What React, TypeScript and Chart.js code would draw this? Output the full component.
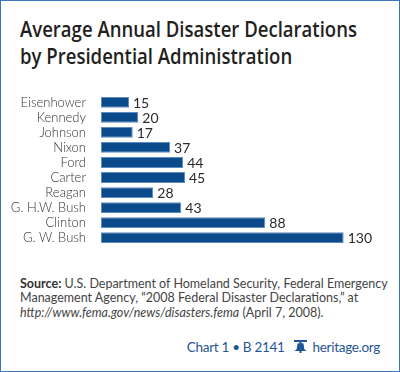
import React, { useEffect, useLayoutEffect, useRef, useState } from "react";
import { Chart, registerables } from "chart.js";

Chart.register(...registerables);

const titleLines = ["Average Annual Disaster Declarations", "by Presidential Administration"];
const categories = [
  "Eisenhower",
  "Kennedy",
  "Johnson",
  "Nixon",
  "Ford",
  "Carter",
  "Reagan",
  "G. H.W. Bush",
  "Clinton",
  "G. W. Bush",
];
const values = [15, 20, 17, 37, 44, 45, 28, 43, 88, 130];
const xMin = 0;
const xMax = 150;

const barColor = "#0b4b8c";
const barEdge = "#5f8cc0";
const textColor = "#2a2a2a";
const titleTargetWidth = 337;

const valueLabels = {
  id: "valueLabels",
  afterDatasetsDraw(chart: any) {
    const ctx = chart.ctx;
    const meta = chart.getDatasetMeta(0);
    ctx.save();
    ctx.font = "14px Lato";
    ctx.fillStyle = textColor;
    ctx.textBaseline = "middle";
    ctx.textAlign = "left";
    meta.data.forEach((bar: any, i: number) => {
      ctx.fillText(String(values[i]), bar.x + 4, bar.y + 1);
    });
    ctx.restore();
  },
};

function Bell() {
  return (
    <svg width="15" height="13" viewBox="0 0 15 13" style={{ display: "inline-block", verticalAlign: "-1px", margin: "0 5px 0 8px" }}>
      <rect x="1" y="0" width="13" height="2" fill="#1f5597" />
      <rect x="6.5" y="2" width="2" height="1.5" fill="#1f5597" />
      <path d="M4.5 3.5 Q7.5 2.5 10.5 3.5 L11.3 9 Q12.2 10.3 14 11 L1 11 Q2.8 10.3 3.7 9 Z" fill="#1f5597" />
      <rect x="6.5" y="11" width="2" height="2" fill="#1f5597" />
    </svg>
  );
}

export default function App() {
  const ref = useRef<HTMLCanvasElement | null>(null);
  const titleRef = useRef<HTMLDivElement | null>(null);
  const [titleScale, setTitleScale] = useState(1);

  useLayoutEffect(() => {
    const el = titleRef.current;
    if (!el) return;
    const w = el.getBoundingClientRect().width;
    if (w > 0) setTitleScale(titleTargetWidth / w);
  }, []);

  useEffect(() => {
    if (!ref.current) return;
    const chart = new Chart(ref.current, {
      type: "bar",
      data: {
        labels: categories,
        datasets: [
          {
            data: values,
            backgroundColor: barColor,
            borderColor: barEdge,
            borderWidth: 1,
            borderSkipped: false,
            barPercentage: 0.72,
            categoryPercentage: 1,
          },
        ],
      },
      options: {
        indexAxis: "y",
        animation: false,
        responsive: false,
        devicePixelRatio: 1,
        layout: { padding: { left: 0, right: 19, top: 0, bottom: 0 } },
        plugins: {
          legend: { display: false },
          tooltip: { enabled: false },
          title: { display: false },
        },
        scales: {
          x: {
            display: false,
            min: xMin,
            max: xMax,
          },
          y: {
            grid: { display: false },
            border: { display: false },
            ticks: {
              autoSkip: false,
              color: "#333333",
              font: { family: "Lato", size: 13, weight: "300" },
              padding: 7,
            },
            afterFit: (scale: any) => {
              scale.width = 101;
            },
          },
        },
      },
      plugins: [valueLabels],
    } as any);
    return () => chart.destroy();
  }, []);

  return (
    <div
      style={{
        position: "absolute",
        left: 0,
        top: 0,
        width: 400,
        height: 372,
        background: "#ffffff",
        overflow: "hidden",
      }}
    >
      <div
        style={{
          position: "absolute",
          left: 20,
          top: 15,
          fontFamily: "'Open Sans', sans-serif",
          fontWeight: 600,
          fontSize: 22,
          lineHeight: "27px",
          color: "#231f20",
          whiteSpace: "nowrap",
          transform: `scaleX(${titleScale})`,
          transformOrigin: "left top",
        }}
      >
        <div ref={titleRef} style={{ display: "inline-block" }}>{titleLines[0]}</div>
        <div>{titleLines[1]}</div>
      </div>
      <canvas
        ref={ref}
        width={400}
        height={180}
        style={{ position: "absolute", left: 0, top: 80, width: 400, height: 180, display: "block" }}
      />
      <div
        style={{
          position: "absolute",
          left: 20,
          top: 277,
          fontFamily: "Lato, sans-serif",
          fontSize: 12.5,
          lineHeight: "14.3px",
          color: "#444444",
          whiteSpace: "nowrap",
        }}
      >
        <div>
          <span style={{ fontWeight: 700, color: "#333" }}>Source:</span> U.S. Department of Homeland Security, Federal Emergency
        </div>
        <div>Management Agency, “2008 Federal Disaster Declarations,” at</div>
        <div>
          <i>http://www.fema.gov/news/disasters.fema</i> (April 7, 2008).
        </div>
      </div>
      <div
        style={{
          position: "absolute",
          right: 20,
          top: 338,
          fontFamily: "Lato, sans-serif",
          fontSize: 13.5,
          letterSpacing: "-0.3px",
          lineHeight: "18px",
          color: "#1f5597",
          whiteSpace: "nowrap",
        }}
      >
        Chart 1 • B 2141
        <Bell />
        heritage.org
      </div>
      <div
        style={{
          position: "absolute",
          left: 0,
          top: 0,
          width: 400,
          height: 372,
          boxSizing: "border-box",
          border: "1px solid #3a78b8",
          pointerEvents: "none",
        }}
      />
    </div>
  );
}
